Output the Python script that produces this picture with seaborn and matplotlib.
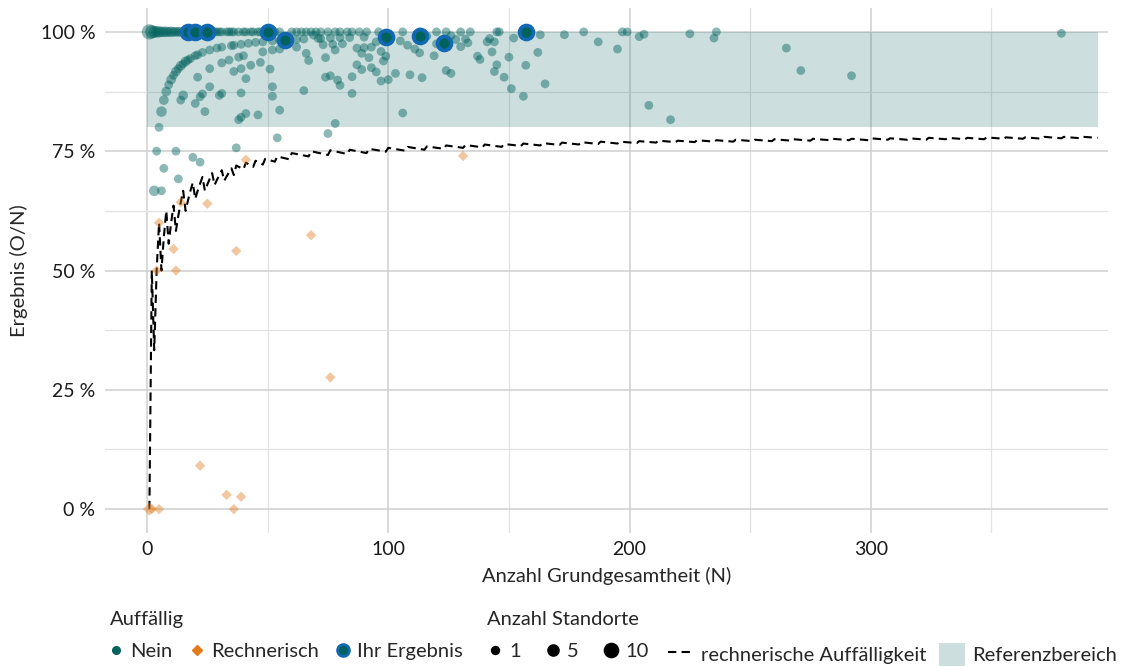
import numpy as np
import pandas as pd
import seaborn as sns
import matplotlib.pyplot as plt
from matplotlib.lines import Line2D
from matplotlib.patches import Patch
from matplotlib.ticker import FuncFormatter

# Referenzbereich
ref_low, ref_high, ref_n_max = 80, 100, 394

# Auffällig = Nein, 100 % row (N, Anzahl Standorte)
top_n = [1, 2, 3, 4, 5, 6, 7, 8, 9, 10, 11, 12, 13, 14, 15, 17, 18, 21, 22, 23,
         26, 27, 28, 29, 30, 31, 33, 34, 35, 36, 38, 40, 41, 43, 44, 46, 47, 52, 53, 55,
         60, 62, 64, 66, 68, 70, 72, 75, 78, 80, 83, 85, 88, 91, 96, 106, 113, 120, 124, 130,
         134, 145, 146, 181, 197, 199, 236]
top_sites = [12, 7, 5, 4, 4, 3, 3, 3, 2, 3, 2, 2, 2, 2, 1, 2, 1, 2, 1, 1,
             1, 2, 1, 1, 1, 1, 1, 1, 1, 1, 1, 1, 1, 1, 1, 1, 1, 1, 1, 1,
             1, 1, 1, 1, 1, 1, 1, 1, 1, 1, 1, 1, 1, 1, 1, 1, 1, 1, 1, 1,
             1, 1, 1, 1, 1, 1, 1]

# Auffällig = Nein, remaining sites
nein_n = [5, 6, 7, 8, 9, 10, 11, 12, 13, 14, 15, 16, 17, 18, 20, 21, 23, 26, 29, 31,
          35, 36, 39, 42, 45, 48, 52, 55, 62, 65, 72, 80, 90,
          38, 40, 31, 34, 26, 21, 36, 39, 43, 47, 51, 41, 26, 23, 22, 15, 14, 20, 31, 30,
          39, 52, 52, 24, 41, 39, 46, 55, 48, 52, 55, 62, 66, 67,
          69, 73, 77, 81, 84, 87, 90, 93, 95, 105, 108, 111, 113, 119, 120, 128, 132, 74,
          78, 89, 92, 97, 99, 98, 87, 89, 93, 95, 74, 76, 79, 80, 85, 97, 100, 103, 109,
          114, 124, 126, 65, 85, 106, 78, 75, 71, 76, 100, 116, 126,
          133, 130, 141, 142, 144, 152, 163, 173, 187, 195, 137, 138, 143, 150, 162, 145,
          144, 157, 148, 165, 151, 156,
          204, 206, 208, 217, 225, 235, 265, 271, 292, 379,
          38, 4, 12, 19, 22, 7, 13, 3, 6, 37, 54]
nein_pct = [80.0, 83.3, 85.7, 87.5, 88.9, 90.0, 90.9, 91.7, 92.3, 92.9, 93.3, 93.8, 94.1, 94.4, 95.0, 95.2, 95.7, 96.2, 96.6, 96.8,
            97.1, 97.2, 97.4, 97.6, 97.8, 97.9, 98.1, 98.2, 98.4, 98.5, 98.6, 98.8, 98.9,
            94.7, 95.0, 93.5, 94.1, 92.3, 90.5, 91.7, 92.3, 93.0, 93.6, 92.2, 90.2, 88.5, 87.0, 86.4, 86.7, 85.7, 85.0, 87.1, 86.7,
            87.2, 88.5, 86.5, 83.3, 82.9, 82.1, 82.6, 83.6, 95.8, 96.2, 96.4, 96.8, 95.5, 94.0,
            99.3, 97.3, 97.4, 97.5, 98.8, 96.6, 96.7, 96.8, 97.9, 98.1, 97.2, 96.4, 95.6, 95.0, 97.5, 98.4, 98.5, 94.6,
            96.2, 95.5, 94.6, 95.9, 94.9, 93.9, 93.1, 92.1, 92.5, 91.6, 90.5, 90.8, 89.9, 88.8, 90.6, 89.7, 90.0, 91.3, 91.0,
            90.4, 91.9, 91.3, 87.7, 87.1, 83.0, 80.8, 78.7, 98.6, 98.7, 99.0, 99.1, 99.2,
            97.7, 96.9, 97.9, 98.6, 97.9, 98.7, 99.4, 99.4, 97.9, 96.4, 94.9, 94.2, 95.8, 94.7, 95.7, 93.1,
            91.7, 93.0, 90.5, 89.1, 88.1, 86.5,
            99.0, 99.5, 84.6, 81.6, 99.6, 98.7, 96.6, 91.9, 90.8, 99.7,
            81.6, 75.0, 75.0, 73.7, 72.7, 71.4, 69.2, 66.7, 66.7, 75.7, 77.8]
nein_sites = [1, 3, 2, 2, 1, 2, 1, 2, 1, 2, 1, 2, 1, 1, 1, 1, 1, 1, 1, 1,
              1, 1, 1, 1, 1, 1, 1, 1, 1, 1, 1, 1, 1,
              1, 1, 1, 1, 1, 1, 1, 1, 1, 1, 1, 1, 1, 1, 1, 2, 1, 1, 1, 1,
              1, 1, 1, 1, 1, 1, 1, 1, 1, 1, 1, 1, 1, 1,
              1, 1, 1, 1, 1, 1, 1, 1, 1, 1, 1, 1, 1, 1, 1, 1, 1, 1,
              1, 1, 1, 1, 1, 1, 1, 1, 1, 1, 1, 1, 1, 1, 1, 1, 1, 1, 1,
              1, 1, 1, 1, 1, 1, 1, 1, 1, 1, 1, 1, 1,
              1, 1, 1, 1, 1, 1, 1, 1, 1, 1, 1, 1, 1, 1, 1, 1,
              1, 1, 1, 1, 1, 1,
              1, 1, 1, 1, 1, 1, 1, 1, 1, 1,
              1, 1, 1, 1, 1, 1, 1, 3, 1, 1, 1]

# Auffällig = Rechnerisch
rech_n = [1, 2, 5, 36, 33, 39, 22, 76, 4, 12, 11, 37, 68, 5, 14, 25, 41, 131]
rech_pct = [0.0, 0.0, 0.0, 0.0, 3.0, 2.6, 9.1, 27.6, 50.0, 50.0, 54.5, 54.1, 57.4, 60.0, 64.3, 64.0, 73.2, 74.0]
rech_sites = [2, 1, 1, 1, 1, 1, 1, 1, 1, 1, 1, 1, 1, 1, 1, 1, 1, 1]

# Ihr Ergebnis
own_n = [17, 20, 25, 50, 57, 99, 113, 123, 157]
own_pct = [100.0, 100.0, 100.0, 100.0, 98.2, 99.0, 99.1, 97.6, 100.0]

# rechnerische Auffälligkeit
line_n = [1, 2, 3, 4, 5, 6, 7, 8, 9, 10, 11, 12, 13, 14, 15, 16, 17, 18, 19, 20,
          21, 22, 23, 24, 25, 26, 27, 28, 29, 30, 31, 32, 33, 34, 35, 36, 37, 40, 41, 44,
          45, 48, 49, 53, 54, 59, 60, 67, 68, 75, 76, 83, 84, 91, 92, 99, 100, 107, 108, 115,
          116, 123, 124, 131, 132, 139, 140, 147, 148, 155, 156, 163, 164, 171, 172, 179, 180, 187, 188, 195,
          196, 203, 204, 211, 212, 219, 220, 227, 228, 235, 236, 243, 244, 251, 252, 259, 260, 267, 268, 275,
          276, 283, 284, 291, 292, 299, 300, 307, 308, 315, 316, 323, 324, 331, 332, 339, 340, 347, 348, 355,
          356, 363, 364, 371, 372, 379, 380, 387, 388, 394]
line_pct = [0.0, 50.0, 33.3, 50.0, 60.0, 50.0, 57.1, 62.5, 55.6, 60.0, 63.6, 58.3, 61.5, 64.3, 66.7, 62.5, 64.7, 66.7, 68.4, 65.0,
            66.7, 68.2, 69.6, 66.7, 68.0, 69.2, 70.4, 67.9, 69.0, 70.0, 71.0, 68.8, 69.7, 70.6, 71.4, 70.0, 72.0, 71.2, 72.6, 71.7,
            73.0, 72.2, 73.4, 72.8, 73.9, 73.3, 74.6, 73.9, 75.0, 74.2, 75.2, 74.4, 75.3, 74.6, 75.5, 74.9, 75.7, 75.1, 75.9, 75.3,
            76.0, 75.5, 76.2, 75.7, 76.3, 75.8, 76.4, 75.9, 76.5, 76.1, 76.6, 76.2, 76.7, 76.3, 76.8, 76.4, 76.9, 76.5, 77.0, 76.6,
            77.0, 76.7, 77.1, 76.8, 77.2, 76.9, 77.2, 76.9, 77.3, 77.0, 77.3, 77.0, 77.4, 77.1, 77.4, 77.1, 77.5, 77.2, 77.5, 77.2,
            77.6, 77.3, 77.6, 77.3, 77.6, 77.3, 77.7, 77.4, 77.7, 77.4, 77.7, 77.4, 77.8, 77.5, 77.8, 77.5, 77.8, 77.5, 77.9, 77.6,
            77.9, 77.6, 77.9, 77.6, 78.0, 77.7, 78.0, 77.7, 78.0, 77.8]

teal = "#00625d"
orange = "#e27b1c"
blue = "#1268b3"
fs = 14.5

sns.set_theme(style="white")
plt.rcParams['font.family'] = ['Lato', 'DejaVu Sans']

nein = pd.DataFrame({'N': top_n + nein_n,
                     'pct': [100.0] * len(top_n) + nein_pct,
                     'sites': top_sites + nein_sites})
rech = pd.DataFrame({'N': rech_n, 'pct': rech_pct, 'sites': rech_sites})
own = pd.DataFrame({'N': own_n, 'pct': own_pct})
line = pd.DataFrame({'N': line_n, 'pct': line_pct})

fig = plt.figure(figsize=(11.28, 6.67), dpi=100)
ax = fig.add_axes([105 / 1128, 1 - 533 / 667, 1003 / 1128, 525 / 667])

ax.set_xticks([0, 100, 200, 300])
ax.set_xticks([50, 150, 250, 350], minor=True)
ax.set_yticks([0, 25, 50, 75, 100])
ax.set_yticks([12.5, 37.5, 62.5, 87.5], minor=True)
ax.grid(which='major', color='#cfcfcf', lw=1.1)
ax.grid(which='minor', color='#e2e2e2', lw=0.9)
ax.set_axisbelow(True)
for s in ax.spines.values():
    s.set_visible(False)

ax.fill_between([0, ref_n_max], ref_low, ref_high, color=teal, alpha=0.2, lw=0, zorder=1)

sns.lineplot(data=line, x='N', y='pct', ax=ax, color='black', lw=1.5,
             linestyle=(0, (4, 2.5)), estimator=None, sort=False, zorder=2)

size_range = (40, 120)
sns.scatterplot(data=nein, x='N', y='pct', size='sites', sizes=size_range, size_norm=(1, 10),
                color=teal, alpha=0.45, linewidth=0, legend=False, ax=ax, zorder=3)
sns.scatterplot(data=rech, x='N', y='pct', size='sites', sizes=(28, 60), size_norm=(1, 3),
                marker='D', color=orange, alpha=0.42, linewidth=0, legend=False, ax=ax, zorder=3)
sns.scatterplot(data=own, x='N', y='pct', s=100, color=teal, edgecolor=blue, linewidth=2.7,
                legend=False, ax=ax, zorder=4)

ax.set_xlim(-17.4, 398.3)
ax.set_ylim(-5, 105)
ax.yaxis.set_major_formatter(FuncFormatter(lambda v, p: f"{v:.0f} %"))
ax.tick_params(which='both', length=0, labelsize=fs - 0.5, colors='#1a1a1a')
ax.tick_params(axis='y', pad=7)
ax.tick_params(axis='x', pad=6)
ax.set_xlabel('Anzahl Grundgesamtheit (N)', fontsize=fs, labelpad=6)
ax.set_ylabel('Ergebnis (O/N)', fontsize=fs, labelpad=9)

# legends
leg_y = 1 - 611 / 667
leg_kw = dict(loc='upper left', frameon=False, fontsize=fs, title_fontsize=fs, alignment='left',
              borderpad=0, borderaxespad=0, labelspacing=0.75)

h1 = [Line2D([], [], ls='', marker='o', color=teal, ms=5.5),
      Line2D([], [], ls='', marker='D', color=orange, ms=5),
      Line2D([], [], ls='', marker='o', mfc=teal, mec=blue, mew=2, ms=8.5)]
fig.legend(handles=h1, labels=['Nein', 'Rechnerisch', 'Ihr Ergebnis'], title='Auffällig',
           bbox_to_anchor=(110 / 1128, leg_y), ncol=3,
           handlelength=0.6, handletextpad=0.4, columnspacing=0.9, **leg_kw)

site_levels = [1, 5, 10]
ms_sizes = [np.sqrt(33 + (v - 1) / 9 * (105 - 33)) for v in site_levels]
h2 = [Line2D([], [], ls='', marker='o', color='black', ms=m) for m in ms_sizes]
fig.legend(handles=h2, labels=[str(v) for v in site_levels], title='Anzahl Standorte',
           bbox_to_anchor=(487 / 1128, leg_y), ncol=3,
           handlelength=0.8, handletextpad=0.3, columnspacing=1.2, **leg_kw)

h3 = [Line2D([], [], color='black', lw=1.5, ls=(0, (4, 2.5))),
      Patch(facecolor=teal, alpha=0.2, lw=0)]
fig.legend(handles=h3, labels=['rechnerische Auffälligkeit', 'Referenzbereich'], title=' ',
           bbox_to_anchor=(668 / 1128, leg_y), ncol=2,
           handlelength=1.3, handleheight=1.4, handletextpad=0.35, columnspacing=0.6, **leg_kw)

fig.savefig('out.png', dpi=100)
